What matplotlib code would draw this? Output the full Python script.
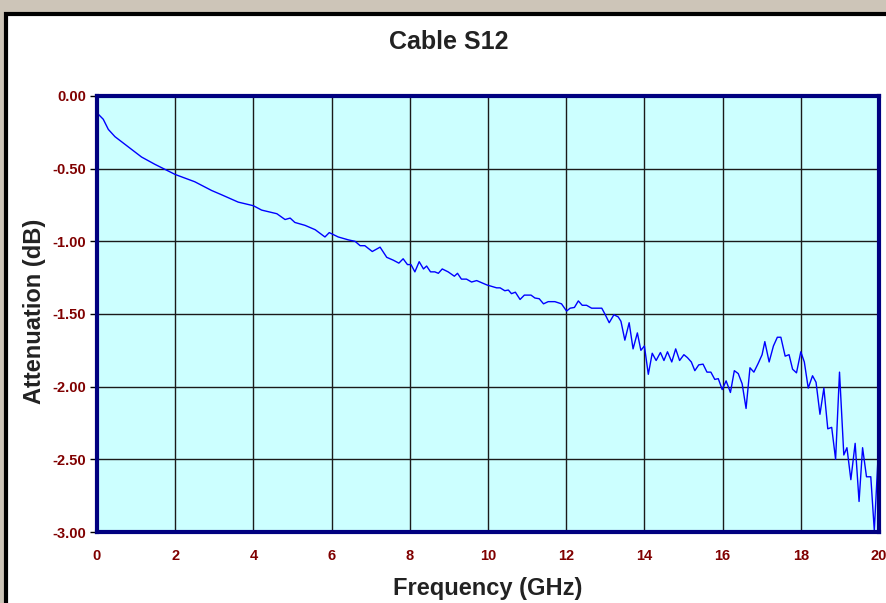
import numpy as np
import matplotlib
matplotlib.use('Agg')
import matplotlib.pyplot as plt
from matplotlib.patches import Rectangle

# values
freq_ghz = [0.05, 0.16, 0.29, 0.46, 0.80, 1.14, 1.48, 2.00, 2.50, 2.93,
            3.19, 3.61, 4.00, 4.21, 4.60, 4.81, 4.94, 5.06, 5.32, 5.58,
            5.83, 5.94, 6.17, 6.43, 6.60, 6.73, 6.85, 7.04, 7.24, 7.41,
            7.58, 7.72, 7.83, 7.94, 8.03, 8.13, 8.24, 8.35, 8.43, 8.53,
            8.64, 8.73, 8.83, 8.98, 9.14, 9.22, 9.32, 9.45, 9.58, 9.71,
            9.84, 9.97, 10.10, 10.22, 10.31, 10.43, 10.52, 10.60, 10.70, 10.82,
            10.93, 11.10, 11.20, 11.31, 11.42, 11.54, 11.71, 11.88, 12.01, 12.10,
            12.21, 12.31, 12.41, 12.52, 12.65, 12.78, 12.91, 12.99, 13.10, 13.22,
            13.33, 13.40, 13.50, 13.61, 13.71, 13.82, 13.91, 14.00, 14.10, 14.20,
            14.30, 14.41, 14.50, 14.59, 14.70, 14.80, 14.90, 15.01, 15.10, 15.20,
            15.29, 15.39, 15.50, 15.60, 15.70, 15.80, 15.89, 15.99, 16.09, 16.20,
            16.30, 16.40, 16.50, 16.60, 16.70, 16.80, 16.91, 17.01, 17.08, 17.19,
            17.30, 17.40, 17.49, 17.60, 17.70, 17.79, 17.89, 18.00, 18.09, 18.19,
            18.30, 18.39, 18.49, 18.59, 18.69, 18.79, 18.89, 18.99, 19.10, 19.18,
            19.28, 19.39, 19.49, 19.58, 19.68, 19.79, 19.88, 19.99]
s12_db = [-0.13, -0.16, -0.23, -0.28, -0.35, -0.42, -0.47, -0.54, -0.59, -0.65,
          -0.68, -0.73, -0.755, -0.785, -0.81, -0.85, -0.84, -0.87, -0.89, -0.92,
          -0.97, -0.94, -0.97, -0.99, -1.00, -1.03, -1.03, -1.07, -1.04, -1.11,
          -1.13, -1.15, -1.12, -1.16, -1.16, -1.21, -1.14, -1.19, -1.17, -1.21,
          -1.21, -1.22, -1.19, -1.21, -1.24, -1.22, -1.26, -1.26, -1.28, -1.27,
          -1.285, -1.30, -1.31, -1.32, -1.32, -1.34, -1.335, -1.36, -1.35, -1.40,
          -1.37, -1.37, -1.39, -1.395, -1.43, -1.415, -1.415, -1.43, -1.48, -1.46,
          -1.455, -1.41, -1.44, -1.44, -1.46, -1.46, -1.46, -1.50, -1.56, -1.505,
          -1.52, -1.55, -1.68, -1.56, -1.74, -1.63, -1.75, -1.72, -1.915, -1.77,
          -1.82, -1.765, -1.82, -1.76, -1.83, -1.74, -1.82, -1.78, -1.80, -1.83,
          -1.89, -1.85, -1.845, -1.90, -1.90, -1.95, -1.945, -2.02, -1.96, -2.04,
          -1.89, -1.91, -1.98, -2.15, -1.87, -1.90, -1.84, -1.78, -1.69, -1.83,
          -1.72, -1.66, -1.66, -1.79, -1.78, -1.88, -1.905, -1.76, -1.83, -2.01,
          -1.925, -1.97, -2.19, -2.01, -2.29, -2.28, -2.50, -1.90, -2.47, -2.42,
          -2.64, -2.39, -2.79, -2.42, -2.62, -2.62, -2.99, -2.41]

x_ticks = [0, 2, 4, 6, 8, 10, 12, 14, 16, 18, 20]
y_ticks = [0.0, -0.5, -1.0, -1.5, -2.0, -2.5, -3.0]


def s12_plot():
    plt.rcParams['font.family'] = ['Liberation Sans', 'DejaVu Sans']
    fig = plt.figure(figsize=(8.87, 6.03), dpi=100, facecolor='#cdc5b8')

    # white chart panel with black frame, behind the axes
    panel = Rectangle((6 / 887, -0.05), 1.1, 1 - 14 / 603 + 0.05, transform=fig.transFigure,
                      facecolor='white', edgecolor='black', linewidth=3, zorder=-10)
    fig.patches.append(panel)

    ax = fig.add_axes([97 / 887, 1 - 532 / 603, (879 - 97) / 887, (532 - 96) / 603])
    ax.set_facecolor('#ccffff')
    ax.plot(freq_ghz, s12_db, color='#0000ff', linewidth=1.0, zorder=3)

    ax.set_xlim(0, 20)
    ax.set_ylim(-3.0, 0.0)
    ax.set_xticks(x_ticks)
    ax.set_yticks(y_ticks)
    ax.set_xticklabels([str(t) for t in x_ticks])
    ax.set_yticklabels(['%.2f' % t for t in y_ticks])
    ax.grid(True, color='#1a1a1a', linewidth=1.0)
    ax.set_axisbelow(False)

    for side in ['left', 'bottom', 'top', 'right']:
        ax.spines[side].set_color('#000080')
        ax.spines[side].set_linewidth(3)
        ax.spines[side].set_zorder(4)

    ax.tick_params(axis='x', length=0, pad=12, labelsize=10.5, labelcolor='#800000')
    ax.tick_params(axis='y', length=5, width=1, color='#000000', pad=3,
                   labelsize=10.5, labelcolor='#800000')
    for lab in ax.get_xticklabels() + ax.get_yticklabels():
        lab.set_fontweight('bold')

    ax.set_xlabel('Frequency (GHz)', fontsize=17, fontweight='bold', color='#222222')
    ax.set_ylabel('Attenuation (dB)', fontsize=17, fontweight='bold', color='#222222')
    ax.xaxis.set_label_coords(0.5, -0.104)
    ax.yaxis.set_label_coords(-0.065, 0.507)
    fig.text(449 / 887, 1 - 42 / 603, 'Cable S12', fontsize=18, fontweight='bold',
             color='#222222', ha='center', va='center')

    fig.savefig('out.png', dpi=100, facecolor=fig.get_facecolor())


if __name__ == "__main__":
    s12_plot()
